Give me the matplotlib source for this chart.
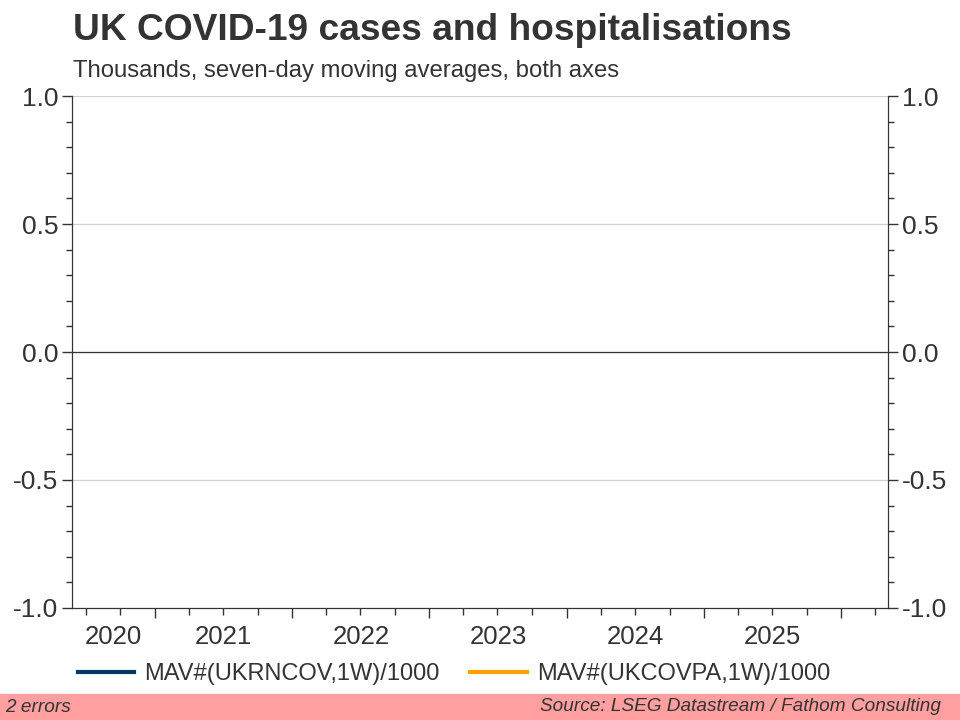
import numpy as np
import pandas as pd
import matplotlib
matplotlib.use('Agg')
import matplotlib.pyplot as plt
import matplotlib.dates as mdates
from matplotlib.ticker import MultipleLocator, FormatStrFormatter

plt.rcParams['font.family'] = ['Liberation Sans', 'DejaVu Sans']

# the source series came back empty (2 errors), so nothing to draw
dates = []
cases = []            # MAV#(UKRNCOV,1W)/1000
hospitalisations = [] # MAV#(UKCOVPA,1W)/1000
series_names = ['MAV#(UKRNCOV,1W)/1000', 'MAV#(UKCOVPA,1W)/1000']
x_start = '2020-05-25'
x_end = '2026-05-05'
year_labels = [2020, 2021, 2022, 2023, 2024, 2025]

TXT = '#333333'
NAVY = '#003865'
ORANGE = '#ff9e00'

fig = plt.figure(figsize=(9.6, 7.2), dpi=100)
ax = fig.add_axes([0.075, 0.1556, 0.85, 0.711])
ax2 = ax.twinx()

l1, = ax.plot(pd.to_datetime(dates), cases, color=NAVY, lw=3)
l2, = ax2.plot(pd.to_datetime(dates), hospitalisations, color=ORANGE, lw=3)

x0 = mdates.date2num(pd.Timestamp(x_start))
x1 = mdates.date2num(pd.Timestamp(x_end))
ax.set_xlim(x0, x1)
for a in (ax, ax2):
    a.set_ylim(-1, 1)
    a.yaxis.set_major_locator(MultipleLocator(0.5))
    a.yaxis.set_minor_locator(MultipleLocator(0.1))
    a.yaxis.set_major_formatter(FormatStrFormatter('%.1f'))
    a.tick_params(axis='y', which='major', length=7, width=1, colors=TXT,
                  labelsize=19, pad=3)
    a.tick_params(axis='y', which='minor', length=4, width=1, colors=TXT)
    for s in a.spines.values():
        s.set_color(TXT)
    a.spines['top'].set_visible(False)

ax.grid(axis='y', which='major', color='#d0d0d0', lw=0.9)
ax.set_axisbelow(True)
ax.axhline(0, color=TXT, lw=0.9)

# year ticks and quarter ticks, labels centred in each visible year
ax.xaxis.set_major_locator(mdates.YearLocator())
ax.xaxis.set_minor_locator(mdates.MonthLocator(bymonth=[1, 4, 7, 10]))
ax.xaxis.set_major_formatter(plt.NullFormatter())
ax.tick_params(axis='x', which='major', length=7, width=1, colors=TXT)
ax.tick_params(axis='x', which='minor', length=5, width=1, colors=TXT)
for yr in year_labels:
    a0 = max(mdates.date2num(pd.Timestamp(f'{yr}-01-01')), x0)
    a1 = min(mdates.date2num(pd.Timestamp(f'{yr + 1}-01-01')), x1)
    ax.text((a0 + a1) / 2, -0.033, str(yr), transform=ax.get_xaxis_transform(),
            ha='center', va='top', fontsize=18.5, color=TXT)

fig.text(0.076, 0.945, 'UK COVID-19 cases and hospitalisations', fontsize=26.7,
         fontweight='bold', color=TXT, va='baseline')
fig.text(0.076, 0.893, 'Thousands, seven-day moving averages, both axes',
         fontsize=17.2, color=TXT, va='baseline')

leg = fig.legend([l1, l2], series_names, loc='center left',
                 bbox_to_anchor=(0.081, 0.064), ncol=2, frameon=False,
                 fontsize=17, handlelength=2.4, handletextpad=0.42,
                 columnspacing=1.3, borderaxespad=0, borderpad=0)
for t in leg.get_texts():
    t.set_color(TXT)

# footer band
fig.patches.append(plt.Rectangle((0, 0), 1, 26 / 720, transform=fig.transFigure,
                                 color='#ff9f9f', zorder=-1))
fig.text(0.005, 0.017, '2 errors', fontsize=13.7, style='italic', color=TXT,
         va='center')
fig.text(0.98, 0.019, 'Source: LSEG Datastream / Fathom Consulting', fontsize=13.7,
         style='italic', color=TXT, va='center', ha='right')

plt.savefig('out.png', dpi=100)
